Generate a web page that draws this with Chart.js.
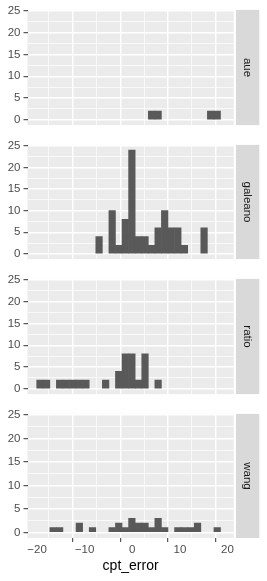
<!DOCTYPE html>
<html>
<head>
<meta charset="utf-8">
<script src="https://cdn.jsdelivr.net/npm/chart.js@4/dist/chart.umd.min.js"></script>
<style>
  html, body { margin: 0; padding: 0; background: #fff; }
  #wrap { position: relative; width: 267px; height: 581px; }
  #wrap canvas { position: absolute; left: 0; }
</style>
</head>
<body>
<div id="wrap">
  <canvas id="p0" width="267" height="135" style="top:0px"></canvas>
  <canvas id="p1" width="267" height="134" style="top:135px"></canvas>
  <canvas id="p2" width="267" height="135" style="top:269px"></canvas>
  <canvas id="p3" width="267" height="177" style="top:404px"></canvas>
</div>
<script>
// histogram bins (centres of cpt_error bins)
const binCenters = [-19.38, -18.00, -16.62, -15.25, -13.87, -12.49, -11.11, -9.73, -8.35, -6.97,
                    -5.59, -4.22, -2.84, -1.46, -0.08, 1.30, 2.68, 4.06, 5.43, 6.81,
                    8.19, 9.57, 10.95, 12.33, 13.71, 15.08, 16.46, 17.84];

const facetNames = ["aue", "galeano", "ratio", "wang"];
const aueCounts     = [0,0,0,0,0,0,0,0,0,0, 0,0,0,0,0,0,0,2,2,0, 0,0,0,0,0,0,2,2];
const galeanoCounts = [0,0,0,0,0,0,0,0,0,4, 0,10,2,8,24,4,4,2,6,10, 6,6,2,0,0,6,0,0];
const ratioCounts   = [2,2,0,2,2,2,2,2,0,0, 2,0,4,8,8,2,8,0,2,0, 0,0,0,0,0,0,0,0];
const wangCounts    = [0,0,1,1,0,0,2,0,1,0, 0,1,2,1,3,2,2,1,3,1, 0,1,1,1,2,0,0,1];

const yMajor = [0, 5, 10, 15, 20, 25];
const yMinor = [2.5, 7.5, 12.5, 17.5, 22.5];
const xMajor = [-20, -10, 0, 10, 20];
const xMinor = [-15, -5, 5, 15];
const xTitle = "cpt_error";

const FONT = '"Liberation Sans", Arial, Helvetica, sans-serif';

const facetPlugin = {
    id: 'facet',
    beforeDraw(chart) {
        const { ctx, chartArea: a } = chart;
        ctx.save();
        ctx.fillStyle = '#EBEBEB';
        ctx.fillRect(a.left, a.top, a.right - a.left, a.bottom - a.top);
        ctx.restore();
    },
    afterDraw(chart, args, opts) {
        const { ctx, chartArea: a } = chart;
        const x0 = a.right + 2.3, w = 23.3;
        ctx.save();
        ctx.fillStyle = '#D9D9D9';
        ctx.fillRect(x0, a.top, w, a.bottom - a.top);
        ctx.translate(x0 + w / 2, (a.top + a.bottom) / 2);
        ctx.rotate(Math.PI / 2);
        ctx.fillStyle = '#1A1A1A';
        ctx.font = '11.5px ' + FONT;
        ctx.textAlign = 'center';
        ctx.textBaseline = 'middle';
        ctx.fillText(opts.label, 0, 0);
        ctx.restore();
    }
};

const majorOf = (list) => (c) => !!(c && c.tick && list.includes(c.tick.value));
const fmt = (v) => (v < 0 ? '\u2212' + Math.abs(v) : String(v));

function makePanel(id, name, counts, bottom) {
    const canvas = document.getElementById(id);
    const h = canvas.height;
    const xIsMajor = majorOf(xMajor);
    const yIsMajor = majorOf(yMajor);
    return new Chart(canvas, {
        type: 'bar',
        data: {
            datasets: [{
                data: binCenters.map((c, i) => ({ x: c, y: counts[i] })),
                // empty bins stay invisible
                backgroundColor: (c) => (c.raw && c.raw.y > 0) ? '#595959' : 'rgba(0,0,0,0)',
                borderWidth: 0,
                barPercentage: 1,
                categoryPercentage: 1
            }]
        },
        options: {
            responsive: false,
            animation: false,
            events: [],
            layout: { padding: { top: 7, right: 33.3, left: 0, bottom: bottom ? 6 : h - 134 } },
            plugins: {
                legend: { display: false },
                tooltip: { enabled: false },
                facet: { label: name }
            },
            scales: {
                x: {
                    type: 'linear',
                    min: -22,
                    max: 21.3,
                    offset: false,
                    afterBuildTicks: (s) => { s.ticks = xMajor.concat(xMinor).sort((a, b) => a - b).map(v => ({ value: v })); },
                    afterFit: (s) => { s.height = bottom ? 37 : 0; },
                    border: { display: false },
                    grid: {
                        color: '#FFFFFF',
                        lineWidth: (c) => xIsMajor(c) ? 1.4 : 0.7,
                        drawTicks: bottom,
                        tickLength: 4,
                        tickWidth: 1,
                        tickColor: (c) => xIsMajor(c) ? '#333333' : 'rgba(0,0,0,0)'
                    },
                    ticks: {
                        display: bottom,
                        autoSkip: false,
                        maxRotation: 0,
                        padding: 1,
                        color: '#4D4D4D',
                        font: { size: 11.5, family: FONT },
                        callback: (v) => xMajor.includes(v) ? fmt(v) : ''
                    },
                    title: {
                        display: bottom,
                        text: xTitle,
                        color: '#000000',
                        padding: 0,
                        font: { size: 14, family: FONT }
                    }
                },
                y: {
                    min: -1.2,
                    max: 25.2,
                    afterBuildTicks: (s) => { s.ticks = yMajor.concat(yMinor).sort((a, b) => a - b).map(v => ({ value: v })); },
                    afterFit: (s) => { s.width = 27.5; },
                    border: { display: false },
                    grid: {
                        color: '#FFFFFF',
                        lineWidth: (c) => yIsMajor(c) ? 1.4 : 0.7,
                        tickLength: 4,
                        tickWidth: 1,
                        tickColor: (c) => yIsMajor(c) ? '#333333' : 'rgba(0,0,0,0)'
                    },
                    ticks: {
                        autoSkip: false,
                        padding: 3,
                        color: '#4D4D4D',
                        font: { size: 11.5, family: FONT },
                        callback: (v) => yMajor.includes(v) ? fmt(v) : ''
                    }
                }
            }
        },
        plugins: [facetPlugin]
    });
}

makePanel('p0', facetNames[0], aueCounts, false);
makePanel('p1', facetNames[1], galeanoCounts, false);
makePanel('p2', facetNames[2], ratioCounts, false);
makePanel('p3', facetNames[3], wangCounts, true);
</script>
</body>
</html>
